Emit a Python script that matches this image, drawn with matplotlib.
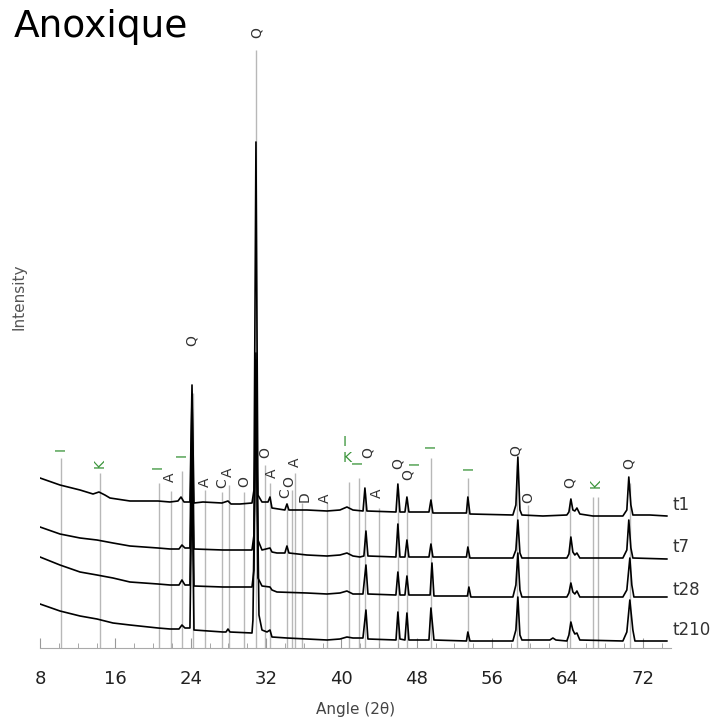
import numpy as np
import matplotlib
matplotlib.use('Agg')
import matplotlib.pyplot as plt

# XRD traces (stacked), angle in degrees 2theta, intensity in arbitrary units
t1_x = [8.0, 10.12, 12.25, 13.63, 14.26, 14.89, 15.43, 17.55, 20.53, 21.80, 22.65, 22.97, 23.29, 23.92,
        24.14, 24.35, 25.30, 27.32, 27.96, 28.28, 29.23, 30.51, 30.72, 30.93, 31.14, 31.57, 32.21, 32.42,
        32.63, 34.0, 34.22, 34.43, 36.34, 38.47, 39.85, 40.59, 41.23, 42.30, 42.50, 42.71, 45.80, 46.00,
        46.22, 46.75, 46.96, 47.17, 49.30, 49.51, 49.72, 53.28, 53.43, 53.65, 58.21, 58.53, 58.74, 58.96,
        59.17, 61.40, 63.94, 64.16, 64.37, 64.58, 64.79, 65.01, 65.32, 66.70, 69.89, 70.31, 70.52, 70.74,
        70.95, 72.76, 74.56]
t1_y = [170, 163, 158, 154, 156, 153, 150, 147, 147, 146, 147, 151, 146, 146,
        263, 145, 146, 145, 147, 144, 144, 145, 158, 506, 153, 146, 146, 151,
        140, 138, 144, 138, 138, 137, 138, 141, 138, 137, 160, 137, 136, 164,
        136, 136, 151, 136, 136, 148, 135, 135, 151, 134, 133, 143, 191, 138,
        133, 132, 133, 136, 149, 138, 137, 140, 134, 132, 132, 138, 171, 143,
        133, 133, 132]

t7_x = [8.0, 10.12, 12.25, 14.05, 15.75, 17.55, 20.53, 21.80, 22.76, 23.07, 23.39, 23.92, 24.14, 24.35,
        27.43, 30.51, 30.72, 30.93, 31.14, 31.57, 32.42, 32.63, 33.16, 34.0, 34.22, 34.43, 36.34, 38.47,
        39.85, 40.59, 41.23, 41.97, 42.39, 42.61, 42.82, 45.79, 46.00, 46.22, 46.75, 46.96, 47.17, 49.30,
        49.51, 49.72, 53.28, 53.43, 53.65, 58.21, 58.53, 58.74, 58.96, 59.17, 63.94, 64.16, 64.37, 64.58,
        64.79, 65.01, 65.32, 69.89, 70.31, 70.52, 70.74, 70.95, 74.56]
t7_y = [121, 114, 110, 108, 105, 102, 100, 99, 99, 103, 100, 100, 253, 99,
        98, 98, 113, 295, 108, 98, 100, 96, 95, 95, 102, 95, 93, 92,
        93, 95, 92, 91, 92, 117, 92, 91, 124, 91, 91, 108, 91, 91,
        104, 91, 91, 101, 90, 90, 98, 128, 95, 90, 90, 94, 111, 96,
        93, 95, 90, 90, 98, 128, 100, 90, 89]

t28_x = [8.0, 10.12, 12.25, 14.05, 15.75, 17.55, 20.53, 21.80, 22.76, 23.07, 23.39, 23.92, 24.14, 24.35,
         27.43, 30.51, 30.72, 30.93, 31.14, 31.36, 31.57, 32.42, 32.63, 33.16, 36.34, 38.47, 39.85, 40.59,
         41.23, 42.29, 42.61, 42.82, 45.79, 46.00, 46.22, 46.75, 46.96, 47.17, 49.42, 49.62, 49.83, 53.38,
         53.54, 53.75, 58.21, 58.53, 58.74, 58.96, 59.17, 63.94, 64.16, 64.37, 64.58, 64.79, 65.01, 65.32,
         69.89, 70.31, 70.63, 70.84, 71.06, 74.56]
t28_y = [91, 83, 76, 73, 70, 66, 64, 63, 63, 68, 63, 63, 218, 62,
         61, 61, 78, 288, 70, 66, 62, 61, 58, 56, 55, 54, 55, 57,
         54, 54, 83, 54, 53, 76, 53, 53, 72, 53, 53, 85, 52, 52,
         61, 51, 51, 63, 95, 58, 51, 51, 55, 65, 56, 54, 57, 51,
         51, 58, 90, 63, 51, 51]

t210_x = [8.0, 10.12, 12.25, 14.05, 15.75, 17.55, 20.53, 21.80, 22.76, 23.07, 23.39, 23.92, 24.14, 24.35,
          27.43, 27.75, 27.96, 28.17, 30.51, 30.61, 30.93, 31.25, 31.57, 32.10, 32.42, 32.63, 34.22, 36.34,
          38.47, 39.85, 40.59, 41.23, 42.29, 42.61, 42.82, 45.80, 46.00, 46.22, 46.75, 46.96, 47.17, 49.30,
          49.51, 49.83, 53.28, 53.43, 53.65, 58.21, 58.53, 58.74, 58.96, 59.17, 62.14, 62.46, 62.78, 63.94,
          64.16, 64.37, 64.58, 64.79, 65.01, 65.32, 69.89, 70.31, 70.63, 70.95, 71.17, 74.56]
t210_y = [44, 37, 32, 29, 25, 23, 20, 19, 19, 23, 20, 20, 178, 18,
          16, 16, 19, 16, 15, 28, 268, 33, 18, 16, 18, 11, 10, 9,
          8, 9, 11, 10, 10, 38, 9, 8, 36, 9, 8, 35, 8, 8,
          40, 8, 7, 16, 7, 7, 18, 51, 13, 8, 8, 10, 8, 7,
          13, 26, 18, 14, 15, 8, 7, 16, 48, 18, 7, 7]

traces = [(t1_x, t1_y), (t7_x, t7_y), (t28_x, t28_y), (t210_x, t210_y)]
trace_names = ['t1', 't7', 't28', 't210']
trace_label_y = [143, 101, 58, 18]

# phase reference lines: position and height
ref_pos = [10.23, 14.37, 20.63, 21.91, 23.07, 24.2, 25.52, 27.32, 28.07, 29.66, 30.93, 31.89, 32.42,
           34.22, 34.75, 35.1, 35.81, 38.47, 40.8, 41.92, 42.5, 43.99, 46.0, 46.96, 49.51, 53.49,
           58.7, 59.8, 64.3, 66.7, 67.24, 70.6]
ref_top = [190, 175, 165, 157, 177, 255, 158, 156, 163, 156, 598, 183, 165,
           145, 158, 175, 145, 145, 166, 170, 155, 140, 160, 150, 190, 170,
           183, 143, 148, 151, 151, 165]

# phase labels: Q quartz, A, C, O, D (black), I, K (green)
lab_x = [10.23, 14.37, 20.53, 21.80, 23.07, 24.14, 25.52, 27.32, 27.96, 29.66, 31.04, 31.89, 32.63,
         34.01, 34.43, 35.07, 36.13, 38.25, 40.38, 40.59, 41.76, 42.82, 43.77, 46.00, 47.07, 47.81,
         49.51, 53.54, 58.53, 59.80, 64.26, 67.02, 70.52]
lab_y = [199, 185, 181, 171, 193, 307, 166, 165, 176, 166, 615, 195, 175,
         155, 166, 186, 151, 150, 206, 190, 186, 195, 155, 184, 173, 185,
         202, 180, 197, 150, 165, 165, 184]
lab_txt = ['I', 'K', 'I', 'A', 'I', 'Q', 'A', 'C', 'A', 'O', 'Q', 'O', 'A',
           'C', 'O', 'A', 'D', 'A', 'I', 'K', 'I', 'Q', 'A', 'Q', 'Q', 'I',
           'I', 'I', 'Q', 'O', 'Q', 'K', 'Q']
lab_rot = [90] * len(lab_txt)
lab_rot[18] = 0
lab_rot[19] = 0

fig = plt.figure(figsize=(7.13, 7.22), dpi=100)
ax = fig.add_axes([40 / 713, 74 / 722, 631 / 713, 628 / 722])

ax.vlines(ref_pos, 0, ref_top, color='#b8b8b8', lw=1.0, zorder=1)
for x, y in traces:
    ax.plot(x, y, color='black', lw=1.2, zorder=2)

for x, y, s, r in zip(lab_x, lab_y, lab_txt, lab_rot):
    col = '#3a943a' if s in ('I', 'K') else '#333333'
    ax.text(x, y, s, rotation=r, ha='center', va='center', fontsize=10, color=col, zorder=3)

for name, y in zip(trace_names, trace_label_y):
    ax.text(75.2, y, name, ha='left', va='center', fontsize=12, color='#333333', clip_on=False)

ax.set_xlim(8, 75)
ax.set_ylim(0, 628)
ax.set_xticks(np.arange(8, 73, 8))
ax.set_xticks(np.arange(8, 75, 2), minor=True)
ax.tick_params(axis='x', which='major', direction='in', length=7, color='#999999', pad=16,
               labelsize=13, labelcolor='#222222')
ax.tick_params(axis='x', which='minor', direction='in', length=3.5, color='#999999')
ax.set_yticks([])
for side in ['top', 'right', 'left']:
    ax.spines[side].set_visible(False)
ax.spines['bottom'].set_color('#aaaaaa')
ax.set_xlabel('Angle (2θ)', fontsize=11, color='#444444', labelpad=10)

fig.text(19 / 713, 1 - 297 / 722, 'Intensity', rotation=90, ha='center', va='center',
         fontsize=11, color='#555555')
fig.text(14 / 713, 1 - 27 / 722, 'Anoxique', ha='left', va='center', fontsize=27, color='black')

fig.savefig('out.png', dpi=100)
